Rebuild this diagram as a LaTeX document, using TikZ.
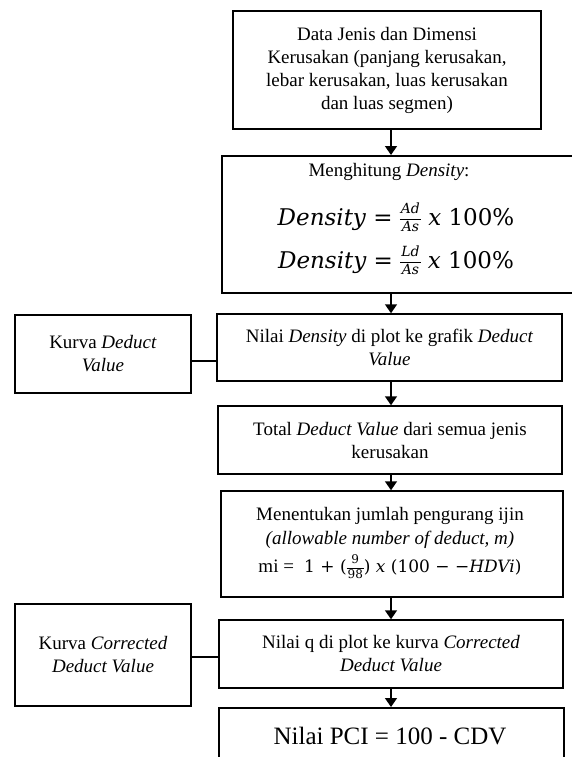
\documentclass[tikz,border=0pt]{standalone}
\usepackage{fontspec}
\setmainfont{Liberation Serif}
\newfontfamily\fm{DejaVu Serif}
\usetikzlibrary{arrows.meta}
\newcommand{\fmsmall}{\fm\fontsize{14}{15}\selectfont\itshape}
\newcommand{\fmsmallup}{\fm\fontsize{12}{13}\selectfont}
\newcommand{\stackfrac}[3]{\ensuremath{\vcenter{\hbox{#1\renewcommand{\arraystretch}{1.15}\setlength{\tabcolsep}{1pt}\setlength{\arrayrulewidth}{0.9pt}\begin{tabular}{c}#2\\\hline #3\end{tabular}}}}}
\begin{document}
\begin{tikzpicture}[x=1pt,y=-1pt,
  box/.style={draw, line width=1.5pt, inner sep=0pt, align=center},
  txt/.style={font=\fontsize{19}{23}\selectfont, align=center, inner sep=0pt},
  arr/.style={line width=1.5pt, -{Triangle[width=12pt,length=9pt]}},
  lnk/.style={line width=1.5pt}]
\useasboundingbox (0,0) rectangle (571,757);
\fill[white] (0,0) rectangle (571,757);
% main boxes
\node[box, txt, minimum width=308pt, minimum height=118pt] (b1) at (387,70)
  {Data Jenis dan Dimensi\\Kerusakan (panjang kerusakan,\\lebar kerusakan, luas kerusakan\\dan luas segmen)};
\node[box, minimum width=360pt, minimum height=137pt, anchor=north west] (b2) at (221,155) {};
\node[txt] (b2a) at (389,172) {Menghitung \textit{Density}:};
\node[inner sep=0pt] (b2b) at (396,219)
  {\fm\fontsize{23}{27}\selectfont\itshape Density\upshape{} = \stackfrac{\fmsmall}{Ad}{As} \itshape x\upshape{} 100\%};
\node[inner sep=0pt] (b2c) at (396,262)
  {\fm\fontsize{23}{27}\selectfont\itshape Density\upshape{} = \stackfrac{\fmsmall}{Ld}{As} \itshape x\upshape{} 100\%};
\node[box, txt, minimum width=345pt, minimum height=67pt] (b3) at (389.5,347.5)
  {Nilai \textit{Density} di plot ke grafik \textit{Deduct}\\\textit{Value}};
\node[box, txt, minimum width=344pt, minimum height=68pt] (b4) at (390,440)
  {Total \textit{Deduct Value} dari semua jenis\\kerusakan};
\node[box, minimum width=342pt, minimum height=106pt] (b5) at (392,544) {};
\node[txt] (b5a) at (390,516) {Menentukan jumlah pengurang ijin};
\node[txt] (b5b) at (390,540) {\textit{(allowable number of deduct, m)}};
\node[inner sep=0pt] (b5c) at (390,568)
  {\fontsize{19}{23}\selectfont mi = \fm\fontsize{17}{20}\selectfont\ 1 + (\stackfrac{\fmsmallup}{9}{98}) \itshape x\upshape{} (100 − −\itshape HDVi\upshape)};
\node[box, txt, minimum width=344pt, minimum height=68pt] (b6) at (391,654)
  {Nilai q di plot ke kurva \textit{Corrected}\\\textit{Deduct Value}};
\node[box, minimum width=345pt, minimum height=70pt, anchor=north west] (b7) at (218,707) {};
\node[inner sep=0pt, font=\fontsize{25}{29}\selectfont] (b7a) at (390,736) {Nilai PCI = 100 - CDV};
% side boxes
\node[box, txt, minimum width=176pt, minimum height=78pt] (la) at (103,354)
  {Kurva \textit{Deduct}\\\textit{Value}};
\node[box, txt, minimum width=176pt, minimum height=102pt] (lb) at (103,655)
  {Kurva \textit{Corrected}\\\textit{Deduct Value}};
% connectors
\coordinate (ax) at (391,0);
\coordinate (ca) at (0,361);
\coordinate (cb) at (0,657);
\draw[arr] (b1.south -| ax) -- (b2.north -| ax);
\draw[arr] (b2.south -| ax) -- (b3.north -| ax);
\draw[arr] (b3.south -| ax) -- (b4.north -| ax);
\draw[arr] (b4.south -| ax) -- (b5.north -| ax);
\draw[arr] (b5.south -| ax) -- (b6.north -| ax);
\draw[arr] (b6.south -| ax) -- (b7.north -| ax);
\draw[lnk] (la.east |- ca) -- (b3.west |- ca);
\draw[lnk] (lb.east |- cb) -- (b6.west |- cb);
\end{tikzpicture}
\end{document}
